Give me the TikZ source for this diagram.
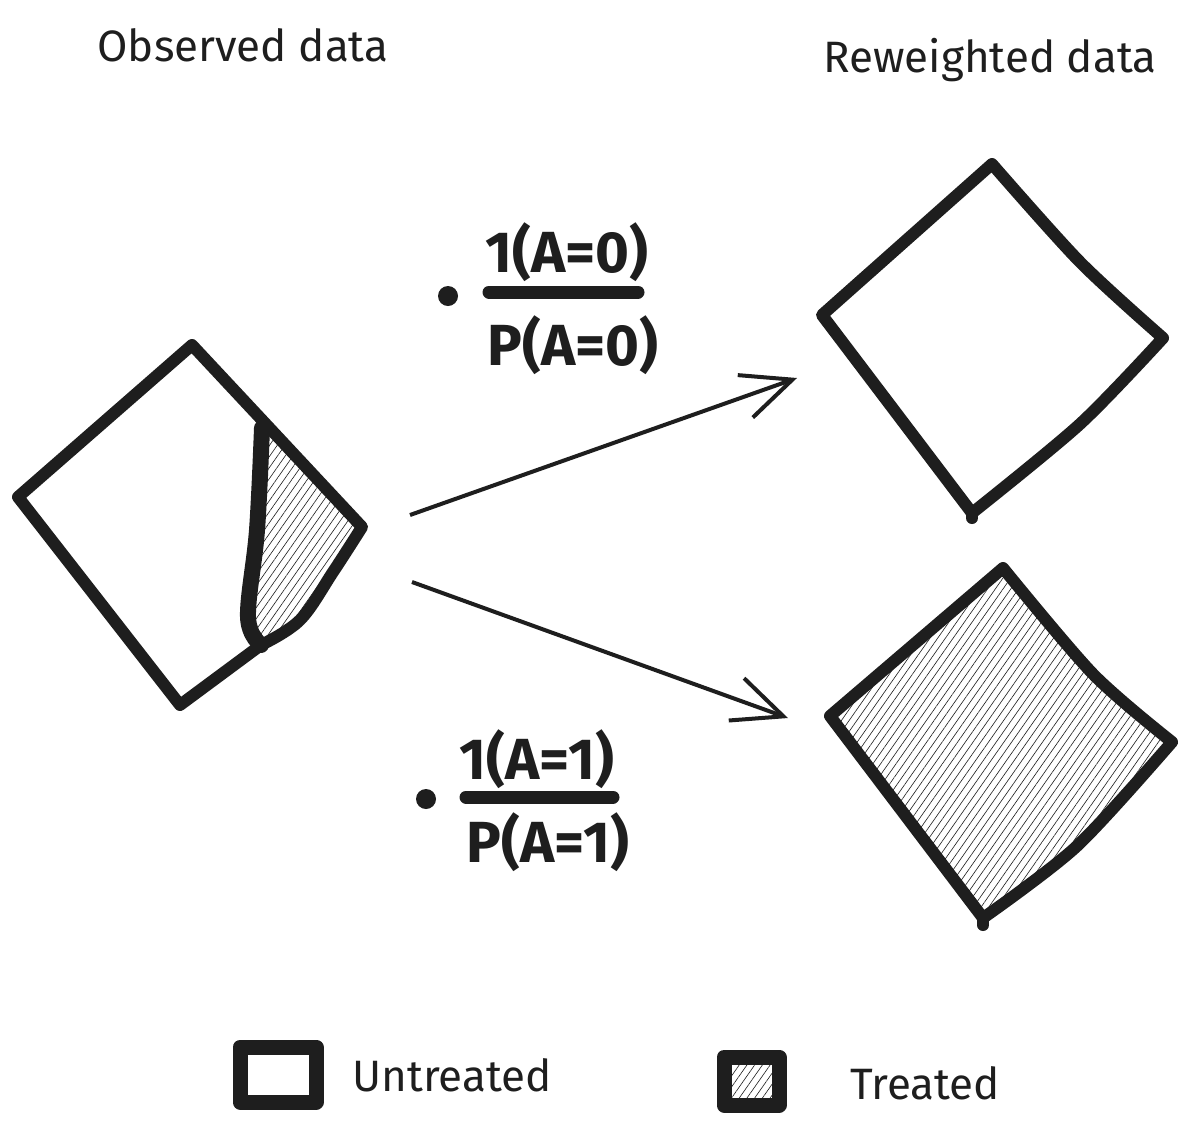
\documentclass[tikz,border=0pt]{standalone}
\usepackage{fontspec}
\setmainfont{Fira Sans}
\usepackage{tikz}
\usetikzlibrary{arrows.meta}
\usetikzlibrary{patterns.meta}
\definecolor{ink}{HTML}{1E1E1E}

\begin{document}
\begin{tikzpicture}[x=0.2mm, y=-0.2mm, ink,
    sketch/.style={draw=ink, line width=2.4mm, line join=round, line cap=round},
    hatch/.style={pattern={Lines[angle=55, distance=3.6pt, line width=0.35pt]}, pattern color=ink},
    title/.style={text=ink, font=\fontsize{25}{30}\selectfont},
    frac/.style={text=ink, font=\bfseries\fontsize{33}{38}\selectfont, inner sep=0pt},
    weight/.style={draw=ink, line width=0.8mm, -{Straight Barb[length=10mm, width=9mm, line width=0.8mm]}}]
    \useasboundingbox (0,0) rectangle (1194,1128);

    % Titles
    \node[title] (obsTitle) at (243,45) {Observed data};
    \node[title] (rwTitle) at (990,60) {Reweighted data};

    % Observed data
    \coordinate (oL) at (18,497);
    \coordinate (oT) at (192,345);
    \coordinate (oR) at (362,527);
    \coordinate (oB) at (180,705);
    \coordinate (dT) at (262,428);
    \coordinate (dB) at (261,645);
    \fill[hatch] (dT) -- (oR)
        -- plot[smooth, tension=0.6] coordinates {(oR) (333,572) (300,620) (dB)}
        -- plot[smooth, tension=0.6] coordinates {(dB) (248,617) (257,530) (dT)} -- cycle;
    \draw[sketch] (oL) -- (oT) -- (oR)
        -- plot[smooth, tension=0.6] coordinates {(oR) (333,572) (300,620) (dB)}
        -- (oB) -- cycle;
    \draw[sketch, line width=3.2mm] plot[smooth, tension=0.6] coordinates {(dT) (257,530) (248,617) (dB)};

    % Reweighted untreated
    \coordinate (uL) at (822,315);
    \coordinate (uT) at (992,164);
    \coordinate (uR) at (1163,338);
    \coordinate (uB) at (972,513);
    \draw[sketch] (uT) -- plot[smooth, tension=0.5] coordinates {(uT) (1080,262) (uR)}
        -- plot[smooth, tension=0.5] coordinates {(uR) (1080,424) (uB)}
        -- (uL) -- cycle;
    \draw[sketch] (uB) -- (972,518);

    % Reweighted treated
    \coordinate (tL) at (830,716);
    \coordinate (tT) at (1003,568);
    \coordinate (tR) at (1172,742);
    \coordinate (tB) at (983,918);
    \draw[sketch, hatch] (tT) -- plot[smooth, tension=0.5] coordinates {(tT) (1093,674) (tR)}
        -- plot[smooth, tension=0.5] coordinates {(tR) (1077,846) (tB)}
        -- (tL) -- cycle;
    \draw[sketch] (tB) -- (983,925);

    % Arrows
    \coordinate (a1s) at (410,515);
    \coordinate (a1e) at (797,378);
    \coordinate (a2s) at (412,582);
    \coordinate (a2e) at (788,718);
    \draw[weight] (a1s) -- (a1e);
    \draw[weight] (a2s) -- (a2e);

    % Weights
    \node[frac] (numZero) at (567,252) {1(A=0)};
    \node[frac] (denZero) at (573,345) {P(A=0)};
    \draw[ink, line width=2.6mm, line cap=round] (489,292) -- (638,292);
    \fill (448,296) circle (10);

    \node[frac] (numOne) at (537,759) {1(A=1)};
    \node[frac] (denOne) at (548,842) {P(A=1)};
    \draw[ink, line width=2.6mm, line cap=round] (466,797) -- (613,797);
    \fill (426,799) circle (10);

    % Legend
    \fill[hatch] (730,1062) rectangle (773,1100);
    \draw[sketch, line width=3mm] (240,1047) rectangle (316,1102);
    \draw[sketch, line width=3mm] (724,1057) rectangle (779,1105);
    \node[title] (untreated) at (452,1075) {Untreated};
    \node[title] (treated) at (925,1083) {Treated};
\end{tikzpicture}
\end{document}
